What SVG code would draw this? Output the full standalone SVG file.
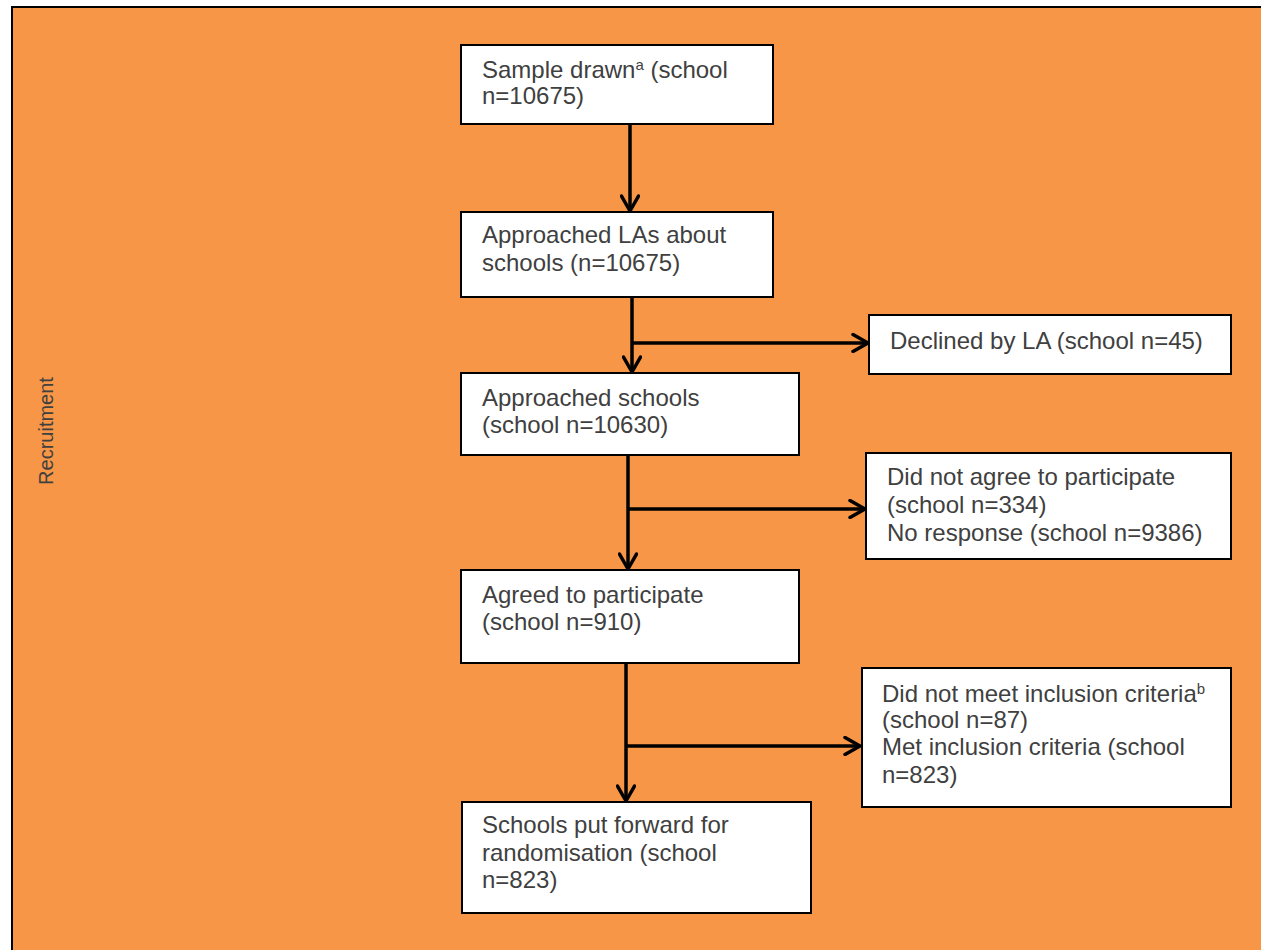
<svg xmlns="http://www.w3.org/2000/svg" width="1261" height="950" viewBox="0 0 1261 950">
  <style>
    .box { fill: #ffffff; stroke: #000000; stroke-width: 2; }
    .t { font-family: "Liberation Sans", Arial, sans-serif; font-size: 24px; fill: #404040; }
    .lbl { font-family: "Liberation Sans", Arial, sans-serif; font-size: 20px; fill: #404040; }
    .conn { stroke: #000000; stroke-width: 3.5; fill: none; }
    .sup { font-size: 15px; }
  </style>
  <defs>
    <marker id="arrow" viewBox="0 0 20 20" refX="18" refY="10" markerWidth="20" markerHeight="20" markerUnits="userSpaceOnUse" orient="auto">
      <path d="M3,1.5 L18,10 L3,18.5" fill="none" stroke="#000000" stroke-width="3.5" stroke-linecap="round" stroke-linejoin="round"/>
    </marker>
  </defs>

  <rect x="12" y="7" width="1270" height="960" fill="#F79646" stroke="#000000" stroke-width="2"/>
  <text class="lbl" transform="translate(53,431) rotate(-90)" text-anchor="middle">Recruitment</text>

  <g id="connectors">
    <line class="conn" x1="630" y1="124" x2="630" y2="211" marker-end="url(#arrow)"/>
    <line class="conn" x1="632" y1="297" x2="632" y2="372" marker-end="url(#arrow)"/>
    <line class="conn" x1="632" y1="343" x2="868" y2="343" marker-end="url(#arrow)"/>
    <line class="conn" x1="628" y1="455" x2="628" y2="569" marker-end="url(#arrow)"/>
    <line class="conn" x1="628" y1="509" x2="865" y2="509" marker-end="url(#arrow)"/>
    <line class="conn" x1="626" y1="663" x2="626" y2="801" marker-end="url(#arrow)"/>
    <line class="conn" x1="626" y1="746" x2="860" y2="746" marker-end="url(#arrow)"/>
  </g>

  <g id="sample">
    <rect class="box" x="461" y="45" width="312" height="79"/>
    <text class="t" x="482" y="78">Sample drawn<tspan class="sup" baseline-shift="super">a</tspan> (school</text>
    <text class="t" x="482" y="104">n=10675)</text>
  </g>

  <g id="approached-las">
    <rect class="box" x="461" y="212" width="312" height="85"/>
    <text class="t" x="482" y="243">Approached LAs about</text>
    <text class="t" x="482" y="271">schools (n=10675)</text>
  </g>

  <g id="declined">
    <rect class="box" x="869" y="315" width="362" height="59"/>
    <text class="t" x="890" y="349">Declined by LA (school n=45)</text>
  </g>

  <g id="approached-schools">
    <rect class="box" x="461" y="373" width="338" height="82"/>
    <text class="t" x="482" y="406">Approached schools</text>
    <text class="t" x="482" y="433">(school n=10630)</text>
  </g>

  <g id="not-agree">
    <rect class="box" x="866" y="453" width="365" height="106"/>
    <text class="t" x="887" y="485">Did not agree to participate</text>
    <text class="t" x="887" y="513">(school n=334)</text>
    <text class="t" x="887" y="541">No response (school n=9386)</text>
  </g>

  <g id="agreed">
    <rect class="box" x="461" y="570" width="338" height="93"/>
    <text class="t" x="482" y="603">Agreed to participate</text>
    <text class="t" x="482" y="630">(school n=910)</text>
  </g>

  <g id="inclusion">
    <rect class="box" x="862" y="668" width="369" height="139"/>
    <text class="t" x="882" y="702">Did not meet inclusion criteria<tspan class="sup" baseline-shift="super">b</tspan></text>
    <text class="t" x="882" y="728">(school n=87)</text>
    <text class="t" x="882" y="755">Met inclusion criteria (school</text>
    <text class="t" x="882" y="783">n=823)</text>
  </g>

  <g id="randomisation">
    <rect class="box" x="462" y="802" width="349" height="111"/>
    <text class="t" x="482" y="833">Schools put forward for</text>
    <text class="t" x="482" y="861">randomisation (school</text>
    <text class="t" x="482" y="888">n=823)</text>
  </g>
</svg>
